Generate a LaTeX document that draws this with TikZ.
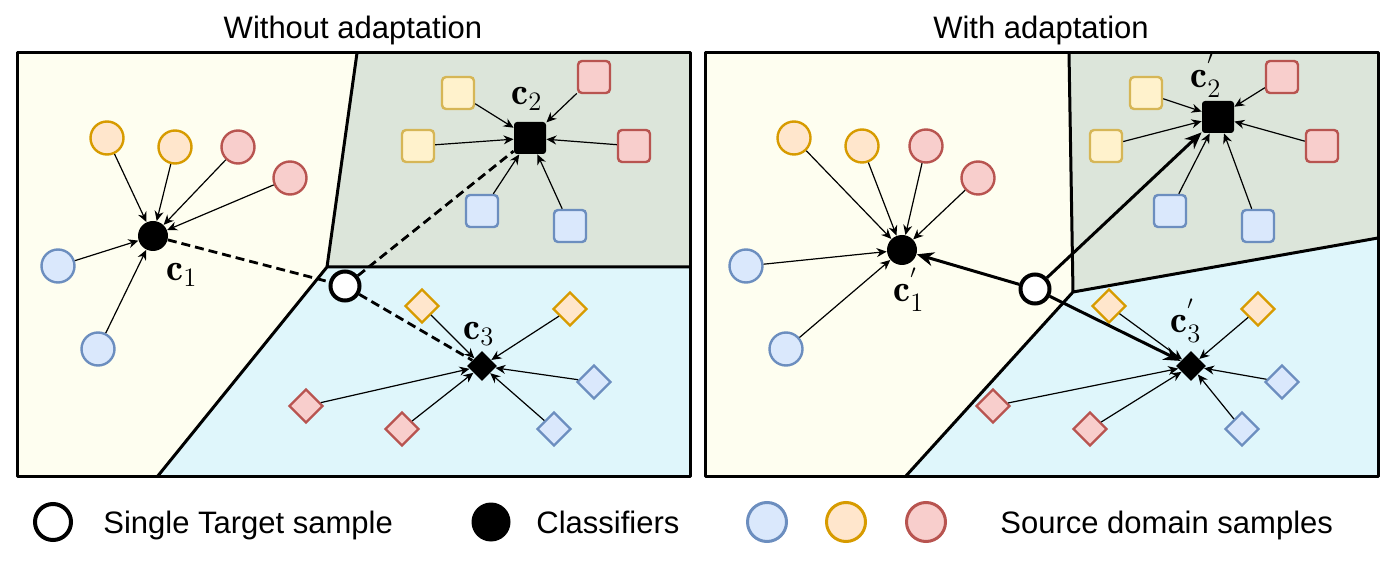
\RequirePackage{fix-cm}
\documentclass[tikz,border=0pt]{standalone}
\usepackage{fontspec}
\usetikzlibrary{arrows.meta,shapes.geometric}
\newfontfamily\legendfont{Liberation Sans}
\definecolor{YellowBg}{RGB}{254,254,240}
\definecolor{GreenBg}{RGB}{220,229,218}
\definecolor{BlueBg}{RGB}{223,246,251}
\definecolor{SrcBlueFill}{HTML}{DAE8FC}
\definecolor{SrcBlueLine}{HTML}{6C8EBF}
\definecolor{SrcOrangeFill}{HTML}{FFE6CC}
\definecolor{SrcOrangeLine}{HTML}{D79B00}
\definecolor{SrcRedFill}{HTML}{F8CECC}
\definecolor{SrcRedLine}{HTML}{B85450}
\definecolor{SrcYellowFill}{HTML}{FFF2CC}
\definecolor{SrcYellowLine}{HTML}{D6B656}
\tikzset{
  srccircle/.style={circle,draw,line width=1.2pt,minimum size=16.5pt,inner sep=0pt},
  srcsquare/.style={rectangle,rounded corners=2pt,draw,line width=1.2pt,
    minimum size=16pt,inner sep=0pt},
  srcdiamond/.style={diamond,draw,line width=1.2pt,minimum size=17pt,inner sep=0pt},
  srcblue/.style={draw=SrcBlueLine,fill=SrcBlueFill},
  srcorange/.style={draw=SrcOrangeLine,fill=SrcOrangeFill},
  srcred/.style={draw=SrcRedLine,fill=SrcRedFill},
  srcyellow/.style={draw=SrcYellowLine,fill=SrcYellowFill},
  clscircle/.style={circle,fill=black,minimum size=15pt,inner sep=0pt},
  clssquare/.style={rectangle,rounded corners=1.5pt,fill=black,minimum size=16pt,inner sep=0pt},
  clsdiamond/.style={diamond,fill=black,minimum size=15pt,inner sep=0pt},
  target/.style={circle,draw=black,fill=white,line width=2pt,minimum size=14.5pt,inner sep=0pt},
  srcarrow/.style={-{Stealth[length=5pt,width=4.5pt]},line width=0.6pt},
  movearrow/.style={-{Stealth[length=8.5pt,width=7pt]},line width=1.5pt},
  distline/.style={line width=1.4pt,dash pattern=on 4.5pt off 2.5pt},
  border/.style={line width=1.5pt,line join=round},
  clslabel/.style={font=\fontsize{19}{22}\selectfont,inner sep=0pt,anchor=base west},
  titletext/.style={font=\legendfont\fontsize{15.5}{18}\selectfont,inner sep=0pt,anchor=base},
  legendtext/.style={font=\legendfont\fontsize{15.5}{18}\selectfont,inner sep=0pt,anchor=base west},
}
\begin{document}
\begin{tikzpicture}[x=0.5pt,y=-0.5pt]
  \useasboundingbox (0,0) rectangle (1392,582);
  % titles
  \node[titletext] (ltitle) at (353,39) {Without adaptation};
  \node[titletext] (rtitle) at (1041,39) {With adaptation};

  % left panel regions
  \fill[YellowBg] (17,53) -- (357,53) -- (327,267) -- (157,477) -- (17,477) -- cycle;
  \fill[GreenBg] (357,53) -- (690,53) -- (690,267) -- (327,267) -- cycle;
  \fill[BlueBg] (327,267) -- (690,267) -- (690,477) -- (157,477) -- cycle;
  \draw[border] (357,53) -- (327,267) -- (157,477) (327,267) -- (690,267);
  \draw[border] (17,53) rectangle (690,477);

  % right panel regions
  \fill[YellowBg] (705,53) -- (1069,53) -- (1073,292) -- (905,477) -- (705,477) -- cycle;
  \fill[GreenBg] (1069,53) -- (1378,53) -- (1378,238) -- (1073,292) -- cycle;
  \fill[BlueBg] (1073,292) -- (1378,238) -- (1378,477) -- (905,477) -- cycle;
  \draw[border] (1069,53) -- (1073,292) -- (905,477) (1073,292) -- (1378,238);
  \draw[border] (705,53) rectangle (1378,477);

  % left panel: classifiers and samples
  \node[clscircle] (lc1) at (153,236) {};
  \node[clssquare] (lc2) at (530,138) {};
  \node[clsdiamond] (lc3) at (482,366) {};
  \node[clslabel] (lc1lab) at (166,281) {$\mathbf{c}_1$};
  \node[clslabel] (lc2lab) at (511,105) {$\mathbf{c}_2$};
  \node[clslabel] (lc3lab) at (463,340) {$\mathbf{c}_3$};
  \node[srccircle,srcorange] (lco1) at (107,138) {};
  \node[srccircle,srcorange] (lco2) at (175,147) {};
  \node[srccircle,srcred] (lcr1) at (238,147) {};
  \node[srccircle,srcred] (lcr2) at (290,178) {};
  \node[srccircle,srcblue] (lcb1) at (58,266) {};
  \node[srccircle,srcblue] (lcb2) at (98,349) {};
  \node[srcsquare,srcyellow] (lsy1) at (458,93) {};
  \node[srcsquare,srcyellow] (lsy2) at (418,146) {};
  \node[srcsquare,srcred] (lsr1) at (594,77) {};
  \node[srcsquare,srcred] (lsr2) at (634,146) {};
  \node[srcsquare,srcblue] (lsb1) at (482,211) {};
  \node[srcsquare,srcblue] (lsb2) at (570,226) {};
  \node[srcdiamond,srcorange] (ldo1) at (422,306) {};
  \node[srcdiamond,srcorange] (ldo2) at (570,309) {};
  \node[srcdiamond,srcblue] (ldb1) at (594,382) {};
  \node[srcdiamond,srcblue] (ldb2) at (554,429) {};
  \node[srcdiamond,srcred] (ldr1) at (402,429) {};
  \node[srcdiamond,srcred] (ldr2) at (306,406) {};
  \node[target] (ltgt) at (345,286) {};
  \foreach \s in {lco1,lco2,lcr1,lcr2,lcb1,lcb2} \draw[srcarrow] (\s) -- (lc1);
  \foreach \s in {lsy1,lsy2,lsr1,lsr2,lsb1,lsb2} \draw[srcarrow] (\s) -- (lc2);
  \foreach \s in {ldo1,ldo2,ldb1,ldb2,ldr1,ldr2} \draw[srcarrow] (\s) -- (lc3);
  \draw[distline] (lc1) -- (ltgt);
  \draw[distline] (ltgt) -- (lc2);
  \draw[distline] (ltgt) -- (lc3);

  % right panel: adapted classifiers and samples
  \node[clscircle] (rc1) at (902,250) {};
  \node[clssquare] (rc2) at (1218,117) {};
  \node[clsdiamond] (rc3) at (1191,366) {};
  \node[clslabel] (rc1lab) at (893,302) {$\mathbf{c}^{'}_{1}$};
  \node[clslabel] (rc2lab) at (1190,88) {$\mathbf{c}^{'}_{2}$};
  \node[clslabel] (rc3lab) at (1170,333) {$\mathbf{c}^{'}_{3}$};
  \node[srccircle,srcorange] (rco1) at (794,138) {};
  \node[srccircle,srcorange] (rco2) at (862,146) {};
  \node[srccircle,srcred] (rcr1) at (926,146) {};
  \node[srccircle,srcred] (rcr2) at (978,178) {};
  \node[srccircle,srcblue] (rcb1) at (746,266) {};
  \node[srccircle,srcblue] (rcb2) at (786,349) {};
  \node[srcsquare,srcyellow] (rsy1) at (1146,93) {};
  \node[srcsquare,srcyellow] (rsy2) at (1106,146) {};
  \node[srcsquare,srcred] (rsr1) at (1282,77) {};
  \node[srcsquare,srcred] (rsr2) at (1322,146) {};
  \node[srcsquare,srcblue] (rsb1) at (1170,211) {};
  \node[srcsquare,srcblue] (rsb2) at (1258,226) {};
  \node[srcdiamond,srcorange] (rdo1) at (1109,306) {};
  \node[srcdiamond,srcorange] (rdo2) at (1258,309) {};
  \node[srcdiamond,srcblue] (rdb1) at (1282,382) {};
  \node[srcdiamond,srcblue] (rdb2) at (1242,429) {};
  \node[srcdiamond,srcred] (rdr1) at (1090,429) {};
  \node[srcdiamond,srcred] (rdr2) at (993,406) {};
  \node[target] (rtgt) at (1035,289) {};
  \foreach \s in {rco1,rco2,rcr1,rcr2,rcb1,rcb2} \draw[srcarrow] (\s) -- (rc1);
  \foreach \s in {rsy1,rsy2,rsr1,rsr2,rsb1,rsb2} \draw[srcarrow] (\s) -- (rc2);
  \foreach \s in {rdo1,rdo2,rdb1,rdb2,rdr1,rdr2} \draw[srcarrow] (\s) -- (rc3);
  \draw[movearrow] (rtgt) -- (rc1);
  \draw[movearrow] (rtgt) -- (rc2);
  \draw[movearrow] (rtgt) -- (rc3);

  % legend
  \node[target,minimum size=18pt] (legtgt) at (53,522) {};
  \node[legendtext] (legtgttext) at (103,533) {Single Target sample};
  \node[clscircle,minimum size=19.5pt] (legcls) at (491,522) {};
  \node[legendtext] (legclstext) at (536,533) {Classifiers};
  \node[srccircle,srcblue,line width=1.5pt,minimum size=19.5pt] (legblue) at (767,522) {};
  \node[srccircle,srcorange,line width=1.5pt,minimum size=19.5pt] (legorange) at (846,522) {};
  \node[srccircle,srcred,line width=1.5pt,minimum size=19.5pt] (legred) at (926,522) {};
  \node[legendtext] (legsrctext) at (1000,533) {Source domain samples};
\end{tikzpicture}
\end{document}
